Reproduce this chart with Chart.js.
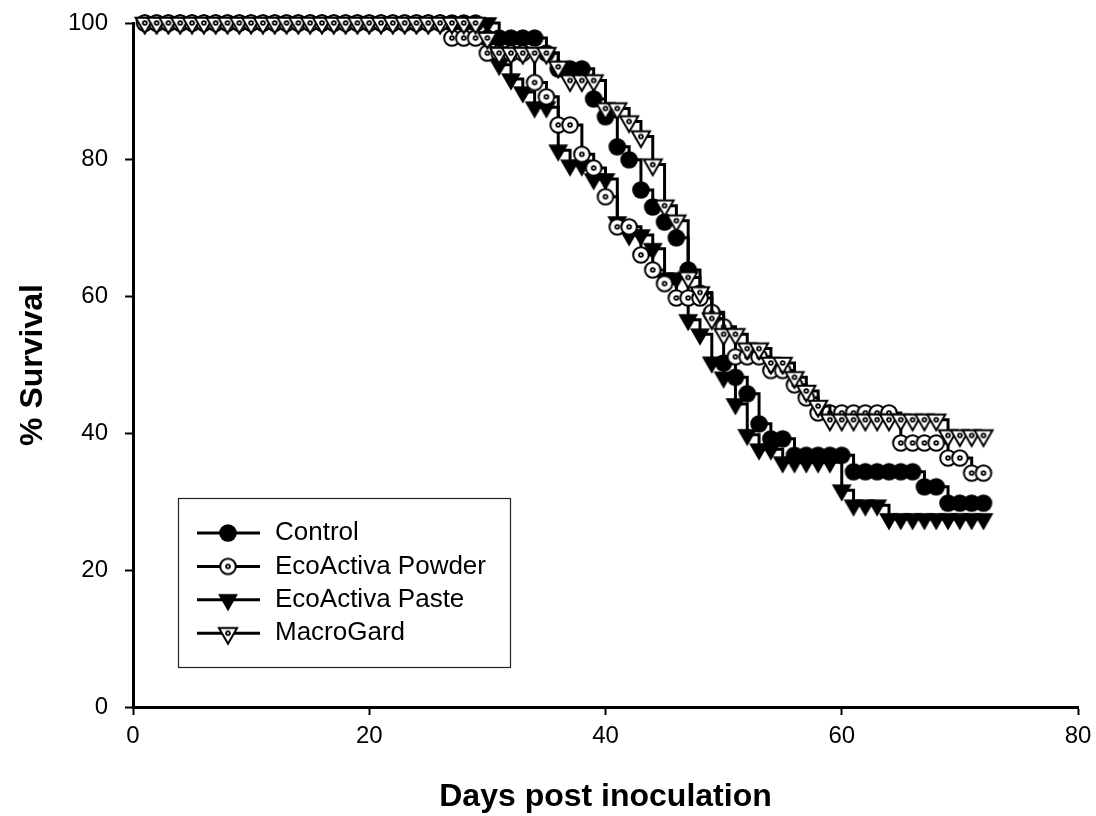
<!DOCTYPE html>
<html lang="en">
<head>
<meta charset="UTF-8">
<title>% Survival – Days post inoculation</title>
<script src="https://cdn.jsdelivr.net/npm/chart.js@4.4.0/dist/chart.umd.min.js"></script>
<style>
  body { margin: 0; background: #fff; }
  #wrap { width: 1096px; height: 816px; }
</style>
</head>
<body>
<div id="wrap"><canvas id="survivalChart" width="1096" height="816"></canvas></div>
<script>
// Days post inoculation, one marker per day
const days = [1, 2, 3, 4, 5, 6, 7, 8, 9, 10, 11, 12, 13, 14, 15, 16, 17, 18, 19, 20,
  21, 22, 23, 24, 25, 26, 27, 28, 29, 30, 31, 32, 33, 34, 35, 36, 37, 38, 39, 40,
  41, 42, 43, 44, 45, 46, 47, 48, 49, 50, 51, 52, 53, 54, 55, 56, 57, 58, 59, 60,
  61, 62, 63, 64, 65, 66, 67, 68, 69, 70, 71, 72];

// % survival
const control = [100, 100, 100, 100, 100, 100, 100, 100, 100, 100, 100, 100, 100, 100, 100,
  100, 100, 100, 100, 100, 100, 100, 100, 100, 100, 100, 100, 100, 100, 97.8,
  97.8, 97.8, 97.8, 97.8, 95.6, 93.3, 93.3, 93.3, 88.9, 86.3,
  81.9, 80.0, 75.6, 73.1, 70.9, 68.6, 63.9, 60.5, 57.5, 50.3,
  48.2, 45.8, 41.4, 39.2, 39.2, 36.8, 36.8, 36.8, 36.8, 36.8,
  34.4, 34.4, 34.4, 34.4, 34.4, 34.4, 32.2, 32.2, 29.8, 29.8, 29.8, 29.8];

const powder = [100, 100, 100, 100, 100, 100, 100, 100, 100, 100, 100, 100, 100,
  100, 100, 100, 100, 100, 100, 100, 100, 100, 100, 100, 100, 100,
  97.8, 97.8, 97.8, 95.6, 95.6, 95.6, 95.6, 91.3, 89.2, 85.1,
  85.1, 80.8, 78.8, 74.6, 70.2, 70.2, 66.1, 63.9, 61.9, 59.8,
  59.8, 59.8, 57.7, 55.6, 51.2, 51.2, 51.2, 49.2, 49.2, 47.1,
  45.2, 43.0, 43.0, 43.0, 43.0, 43.0, 43.0, 43.0, 38.6, 38.6,
  38.6, 38.6, 36.4, 36.4, 34.2, 34.2];

const paste = [100, 100, 100, 100, 100, 100, 100, 100, 100, 100, 100, 100, 100, 100, 100,
  100, 100, 100, 100, 100, 100, 100, 100, 100, 100, 100, 100, 100, 100, 100,
  93.9, 91.8, 89.9, 87.7, 87.7, 81.4, 79.2, 79.2, 77.2, 77.2,
  70.9, 69.0, 69.0, 67.0, 62.7, 62.7, 56.6, 54.5, 50.4, 48.2,
  44.3, 39.8, 37.7, 37.7, 35.8, 35.8, 35.8, 35.8, 35.8, 31.7,
  29.5, 29.5, 29.5, 27.5, 27.5, 27.5, 27.5, 27.5, 27.5, 27.5, 27.5, 27.5];

const macroGard = [100, 100, 100, 100, 100, 100, 100, 100, 100, 100, 100, 100, 100, 100, 100,
  100, 100, 100, 100, 100, 100, 100, 100, 100, 100, 100, 100, 100, 100,
  97.8, 95.6, 95.6, 95.6, 95.6, 95.6, 93.6, 91.6, 91.6, 91.6, 87.5,
  87.5, 85.6, 83.4, 79.3, 73.3, 71.1, 62.8, 60.6, 56.8, 54.5,
  54.5, 52.4, 52.4, 50.3, 50.3, 48.2, 46.2, 44.0, 42.0, 42.0,
  42.0, 42.0, 42.0, 42.0, 42.0, 42.0, 42.0, 42.0, 39.7, 39.7, 39.7, 39.7];

const seriesNames = ['Control', 'EcoActiva Powder', 'EcoActiva Paste', 'MacroGard'];
const xTicks = [0, 20, 40, 60, 80];
const yTicks = [0, 20, 40, 60, 80, 100];

const FONT = '"Liberation Sans", Arial, sans-serif';

// marker symbols drawn once into small canvases
function makeMarker(kind) {
    const c = document.createElement('canvas');
    c.width = 30; c.height = 30;
    const g = c.getContext('2d');
    const cx = 15, cy = 15;
    g.strokeStyle = '#000';
    g.lineWidth = 2;
    if (kind === 'dot' || kind === 'ring') {
        g.beginPath();
        g.arc(cx, cy, kind === 'dot' ? 8.8 : 7.8, 0, Math.PI * 2);
        if (kind === 'dot') { g.fillStyle = '#000'; g.fill(); }
        else { g.fillStyle = '#fff'; g.fill(); g.stroke(); }
    } else {
        const R = kind === 'tri' ? 11.5 : 10.5;
        const h = R * Math.sin(Math.PI / 3);
        g.beginPath();
        g.moveTo(cx, cy + R);
        g.lineTo(cx - h, cy - R / 2);
        g.lineTo(cx + h, cy - R / 2);
        g.closePath();
        if (kind === 'tri') { g.fillStyle = '#000'; g.fill(); }
        else { g.fillStyle = '#fff'; g.fill(); g.stroke(); }
    }
    if (kind === 'ring' || kind === 'openTri') {
        g.beginPath(); g.arc(cx, cy, 2.8, 0, Math.PI * 2); g.fillStyle = '#000'; g.fill();
        g.beginPath(); g.arc(cx, cy, 1.0, 0, Math.PI * 2); g.fillStyle = '#fff'; g.fill();
    }
    return c;
}

const markers = [makeMarker('dot'), makeMarker('ring'), makeMarker('tri'), makeMarker('openTri')];
const seriesValues = [control, powder, paste, macroGard];
const drawOrder = [4, 2, 3, 1];

const datasets = seriesValues.map((vals, i) => ({
    label: seriesNames[i],
    data: days.map((d, j) => ({ x: d, y: vals[j] })),
    stepped: true,
    borderColor: '#000',
    borderWidth: 3,
    pointStyle: markers[i],
    pointRadius: 9,
    clip: false,
    fill: false,
    order: drawOrder[i]
}));

// boxed legend inside the plot, lower left
const boxLegend = {
    id: 'boxLegend',
    afterDraw(chart) {
        const ctx = chart.ctx;
        const left = 178, top = 498, right = 510, bottom = 667;
        ctx.save();
        ctx.strokeStyle = '#222';
        ctx.lineWidth = 1.2;
        ctx.strokeRect(left + 0.5, top + 0.5, right - left, bottom - top);
        ctx.font = '26px ' + FONT;
        ctx.textBaseline = 'middle';
        ctx.fillStyle = '#000';
        seriesNames.forEach((name, i) => {
            const y = 533 + i * 33.4;
            ctx.beginPath();
            ctx.lineWidth = 3;
            ctx.strokeStyle = '#000';
            ctx.moveTo(197, y);
            ctx.lineTo(260, y);
            ctx.stroke();
            const m = markers[i];
            ctx.drawImage(m, 228 - m.width / 2, y - m.height / 2);
            ctx.fillText(name, 275, y);
        });
        ctx.restore();
    }
};

const ctx = document.getElementById('survivalChart').getContext('2d');
new Chart(ctx, {
    type: 'line',
    data: { datasets: datasets },
    options: {
        responsive: false,
        animation: false,
        devicePixelRatio: 1,
        layout: { padding: { top: 23, right: 18, left: 0, bottom: 0 } },
        plugins: {
            legend: { display: false },
            tooltip: { enabled: false }
        },
        scales: {
            x: {
                type: 'linear',
                min: 0,
                max: 80,
                afterBuildTicks: s => { s.ticks = xTicks.map(v => ({ value: v })); },
                afterFit: s => { s.height = 109; s.paddingLeft = 0; s.paddingRight = 0; },
                ticks: { color: '#000', font: { family: FONT, size: 24 }, padding: 7, maxRotation: 0 },
                grid: { drawOnChartArea: false, drawTicks: true, tickLength: 8, tickColor: '#000', tickWidth: 2 },
                border: { display: true, color: '#000', width: 3 },
                title: {
                    display: true,
                    text: 'Days post inoculation',
                    color: '#000',
                    font: { family: FONT, size: 32, weight: 'bold' },
                    padding: { top: 0, bottom: 0 }
                }
            },
            y: {
                min: 0,
                max: 100,
                afterBuildTicks: s => { s.ticks = yTicks.map(v => ({ value: v })); },
                afterFit: s => { s.width = 133; s.paddingTop = 0; s.paddingBottom = 0; },
                ticks: { color: '#000', font: { family: FONT, size: 24 }, padding: 17 },
                grid: { drawOnChartArea: false, drawTicks: true, tickLength: 8, tickColor: '#000', tickWidth: 2 },
                border: { display: true, color: '#000', width: 3 },
                title: {
                    display: true,
                    text: '% Survival',
                    color: '#000',
                    font: { family: FONT, size: 32, weight: 'bold' },
                    padding: { top: 14, bottom: 0 }
                }
            }
        }
    },
    plugins: [boxLegend]
});
</script>
</body>
</html>
